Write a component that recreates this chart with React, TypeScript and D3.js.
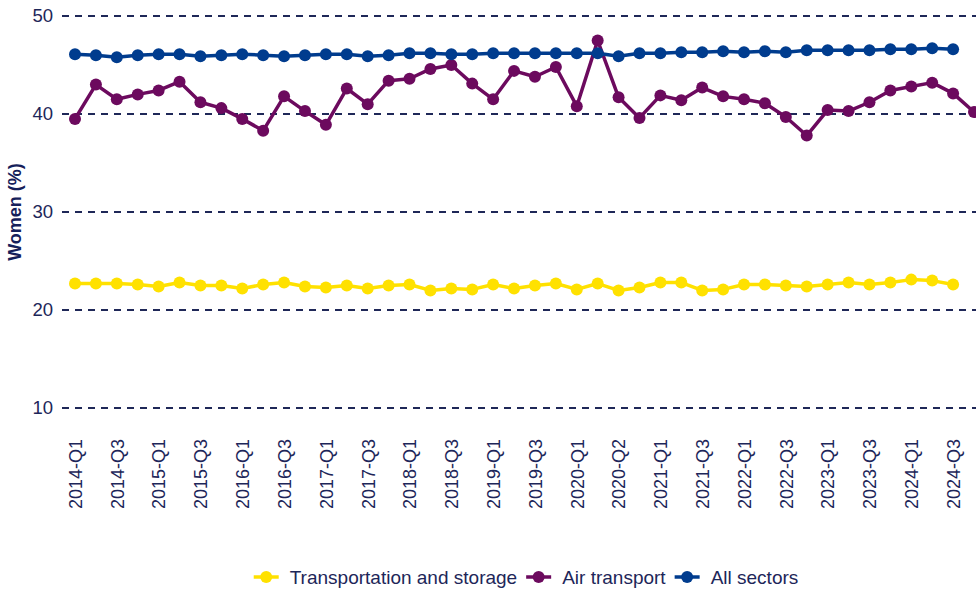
import React, { useRef, useEffect } from "react";
import * as d3 from "d3";

const quarters = [
  "2014-Q1", "2014-Q2", "2014-Q3", "2014-Q4",
  "2015-Q1", "2015-Q2", "2015-Q3", "2015-Q4",
  "2016-Q1", "2016-Q2", "2016-Q3", "2016-Q4",
  "2017-Q1", "2017-Q2", "2017-Q3", "2017-Q4",
  "2018-Q1", "2018-Q2", "2018-Q3", "2018-Q4",
  "2019-Q1", "2019-Q2", "2019-Q3", "2019-Q4",
  "2020-Q1", "2020-Q2", "2020-Q3", "2020-Q4",
  "2021-Q1", "2021-Q2", "2021-Q3", "2021-Q4",
  "2022-Q1", "2022-Q2", "2022-Q3", "2022-Q4",
  "2023-Q1", "2023-Q2", "2023-Q3", "2023-Q4",
  "2024-Q1", "2024-Q2", "2024-Q3", "2024-Q4"
];

// labels as printed under every second quarter
const tickLabels = [
  "2014-Q1", "2014-Q3", "2015-Q1", "2015-Q3", "2016-Q1", "2016-Q3",
  "2017-Q1", "2017-Q3", "2018-Q1", "2018-Q3", "2019-Q1", "2019-Q3",
  "2020-Q1", "2020-Q2", "2021-Q1", "2021-Q3", "2022-Q1", "2022-Q3",
  "2023-Q1", "2023-Q3", "2024-Q1", "2024-Q3"
];

const yTicks = [10, 20, 30, 40, 50];

const transportStorage = [
  22.7, 22.7, 22.7, 22.6, 22.4, 22.8, 22.5, 22.5, 22.2, 22.6, 22.8,
  22.4, 22.3, 22.5, 22.2, 22.5, 22.6, 22.0, 22.2, 22.1, 22.6, 22.2,
  22.5, 22.7, 22.1, 22.7, 22.0, 22.3, 22.8, 22.8, 22.0, 22.1, 22.6,
  22.6, 22.5, 22.4, 22.6, 22.8, 22.6, 22.8, 23.1, 23.0, 22.6
];

const airTransport = [
  39.5, 43.0, 41.5, 42.0, 42.4, 43.3, 41.2, 40.6, 39.5, 38.3, 41.8,
  40.3, 38.9, 42.6, 41.0, 43.4, 43.6, 44.6, 45.0, 43.1, 41.5, 44.4,
  43.8, 44.8, 40.8, 47.5, 41.7, 39.6, 41.9, 41.4, 42.7, 41.8, 41.5,
  41.1, 39.7, 37.8, 40.4, 40.3, 41.2, 42.4, 42.8, 43.2, 42.1, 40.2
];

const allSectors = [
  46.1, 46.0, 45.8, 46.0, 46.1, 46.1, 45.9, 46.0, 46.1, 46.0, 45.9,
  46.0, 46.1, 46.1, 45.9, 46.0, 46.2, 46.2, 46.1, 46.1, 46.2, 46.2,
  46.2, 46.2, 46.2, 46.2, 45.9, 46.2, 46.2, 46.3, 46.3, 46.4, 46.3,
  46.4, 46.3, 46.5, 46.5, 46.5, 46.5, 46.6, 46.6, 46.7, 46.6
];

const seriesNames = ["Transportation and storage", "Air transport", "All sectors"];
const seriesColors = ["#FFE100", "#6C0A5E", "#003C8E"];

const FONT = "'Liberation Sans', Arial, sans-serif";
const INK = "#1d2659";

function App() {
  const ref = useRef<SVGSVGElement | null>(null);
  const w = 976,
    h = 590;

  useEffect(() => {
    const svg = d3.select(ref.current);
    svg.selectAll("*").remove();

    const x = d3.scalePoint<string>().domain(quarters).range([75, 974]);
    const y = d3.scaleLinear().domain([10, 50]).range([408, 16]);

    // dashed horizontal grid
    svg
      .append("g")
      .selectAll("line")
      .data(yTicks)
      .enter()
      .append("line")
      .attr("x1", 62)
      .attr("x2", w)
      .attr("y1", d => y(d))
      .attr("y2", d => y(d))
      .attr("stroke", "#1f2858")
      .attr("stroke-width", 2)
      .attr("stroke-dasharray", "7,6");

    const yAxis = d3
      .axisLeft(y)
      .tickValues(yTicks)
      .tickSize(0)
      .tickPadding(0);
    svg
      .append("g")
      .attr("transform", "translate(53,0)")
      .call(yAxis)
      .call(g => g.select(".domain").remove())
      .selectAll("text")
      .attr("font-family", FONT)
      .attr("font-size", 18.5)
      .attr("fill", INK);

    const xAxis = d3
      .axisBottom(x)
      .tickValues(quarters.filter((_, i) => i % 2 === 0))
      .tickFormat((_, i) => tickLabels[i])
      .tickSize(0)
      .tickPadding(0);
    svg
      .append("g")
      .attr("transform", "translate(0,439)")
      .call(xAxis)
      .call(g => g.select(".domain").remove())
      .selectAll("text")
      .attr("font-family", FONT)
      .attr("font-size", 18)
      .attr("fill", INK)
      .attr("transform", "rotate(-90)")
      .attr("x", 0)
      .attr("y", 0)
      .attr("dy", "0.35em")
      .attr("text-anchor", "end");

    svg
      .append("text")
      .attr("transform", "translate(21,212) rotate(-90)")
      .attr("text-anchor", "middle")
      .attr("font-family", FONT)
      .attr("font-size", 18)
      .attr("font-weight", "bold")
      .attr("fill", "#15205a")
      .text("Women (%)");

    const allSeries = [transportStorage, airTransport, allSectors];
    const line = d3
      .line<number>()
      .x((_, i) => x(quarters[i]) as number)
      .y(d => y(d));

    allSeries.forEach((s, k) => {
      svg
        .append("path")
        .datum(s)
        .attr("d", line)
        .attr("fill", "none")
        .attr("stroke", seriesColors[k])
        .attr("stroke-width", 3.5)
        .attr("stroke-linejoin", "round");
    });

    allSeries.forEach((s, k) => {
      svg
        .append("g")
        .selectAll("circle")
        .data(s)
        .enter()
        .append("circle")
        .attr("cx", (_, i) => x(quarters[i]) as number)
        .attr("cy", d => y(d))
        .attr("r", 6)
        .attr("fill", seriesColors[k]);
    });

    // legend, centred under the panel
    const legend = svg.append("g");
    const items = seriesNames.map((name, k) => {
      const g = legend.append("g");
      g.append("line")
        .attr("x1", 0)
        .attr("x2", 25)
        .attr("y1", 0)
        .attr("y2", 0)
        .attr("stroke", seriesColors[k])
        .attr("stroke-width", 3.5);
      g.append("circle")
        .attr("cx", 12.5)
        .attr("cy", 0)
        .attr("r", 6)
        .attr("fill", seriesColors[k]);
      const t = g
        .append("text")
        .attr("x", 36)
        .attr("dy", "0.35em")
        .attr("font-family", FONT)
        .attr("font-size", 19)
        .attr("fill", INK)
        .text(name);
      const tw = (t.node() as SVGTextElement).getComputedTextLength();
      return { g, width: 36 + tw };
    });
    const gap = 9;
    const total = d3.sum(items, d => d.width) + gap * (items.length - 1);
    let cx = 526 - total / 2;
    items.forEach(it => {
      it.g.attr("transform", `translate(${cx},577)`);
      cx += it.width + gap;
    });
  }, []);

  return (
    <svg
      ref={ref}
      width={w}
      height={h}
      style={{ position: "absolute", left: 0, top: 0, background: "#fff" }}
    />
  );
}

export default App;
